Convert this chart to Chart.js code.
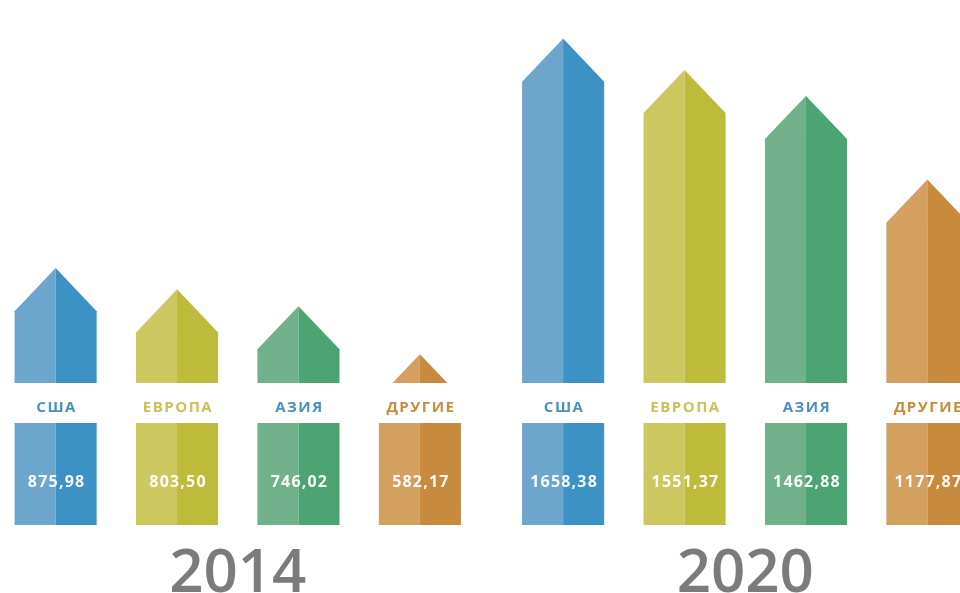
<!DOCTYPE html>
<html>
<head>
<meta charset="utf-8">
<script src="https://cdn.jsdelivr.net/npm/chart.js@4/dist/chart.umd.min.js"></script>
<style>
html,body{margin:0;padding:0;background:#fff;overflow:hidden;width:960px;height:593px;}
#c{position:absolute;left:-16px;top:0;}
</style>
</head>
<body>
<canvas id="c" width="1015" height="617"></canvas>
<script>
// ---- data ----
const years = ['2014', '2020'];
const regions = ['США', 'ЕВРОПА', 'АЗИЯ', 'ДРУГИЕ'];
const usaValues = [875.98, 1658.38];
const europeValues = [803.50, 1551.37];
const asiaValues = [746.02, 1462.88];
const otherValues = [582.17, 1177.87];

// ---- styles ----
const lightColors = ['#6CA6CC', '#CDC760', '#70B08A', '#D4A060'];
const darkColors = ['#3C92C4', '#BFBB3A', '#4CA473', '#C88A3C'];
const labelColors = ['#4A90C2', '#C9C25A', '#4A8FC4', '#C98B3E'];

const seriesValues = [usaValues, europeValues, asiaValues, otherValues];

const arrowPlugin = {
  id: 'arrows',
  beforeDatasetsDraw(chart) {
    const ctx = chart.ctx;
    chart.data.datasets.forEach((ds, di) => {
      const meta = chart.getDatasetMeta(di);
      meta.data.forEach((bar, i) => {
        const p = bar.getProps(['x', 'y', 'base', 'width'], true);
        const half = p.width / 2;
        const roof = half * 1.05;
        const cutTop = p.base - 142, cutBot = p.base - 102;
        ctx.save();
        ctx.beginPath();
        ctx.rect(p.x - half - 2, 0, p.width + 4, cutTop);
        ctx.rect(p.x - half - 2, cutBot, p.width + 4, p.base - cutBot);
        ctx.clip();
        // left (lighter) half
        ctx.fillStyle = lightColors[di];
        ctx.beginPath();
        ctx.moveTo(p.x, p.y);
        ctx.lineTo(p.x - half, p.y + roof);
        ctx.lineTo(p.x - half, p.base);
        ctx.lineTo(p.x, p.base);
        ctx.closePath();
        ctx.fill();
        // right (darker) half
        ctx.fillStyle = darkColors[di];
        ctx.beginPath();
        ctx.moveTo(p.x, p.y);
        ctx.lineTo(p.x + half, p.y + roof);
        ctx.lineTo(p.x + half, p.base);
        ctx.lineTo(p.x, p.base);
        ctx.closePath();
        ctx.fill();
        ctx.restore();

        // region label
        ctx.save();
        ctx.textAlign = 'center';
        ctx.textBaseline = 'middle';
        ctx.font = 'bold 15px "Open Sans"';
        ctx.letterSpacing = '1.5px';
        ctx.fillStyle = labelColors[di];
        ctx.fillText(regions[di], p.x + 1, p.base - 117);
        // value
        ctx.font = 'bold 16px "Open Sans"';
        ctx.letterSpacing = '1.2px';
        ctx.fillStyle = 'rgba(255,255,255,0.95)';
        const v = ds.data[i].toFixed(2).replace('.', ',');
        ctx.fillText(v, p.x + 1, p.base - 43);
        ctx.restore();
      });
    });
    return false;
  }
};

new Chart(document.getElementById('c'), {
  type: 'bar',
  data: {
    labels: years,
    datasets: regions.map((r, i) => ({
      label: r,
      data: seriesValues[i],
      backgroundColor: lightColors[i],
      borderWidth: 0,
      categoryPercentage: 0.957,
      barPercentage: 0.676
    }))
  },
  options: {
    responsive: false,
    devicePixelRatio: 1,
    animation: false,
    layout: { padding: 0 },
    plugins: { legend: { display: false }, tooltip: { enabled: false } },
    scales: {
      x: {
        grid: { display: false },
        border: { display: false },
        ticks: {
          color: '#7b7b7b',
          padding: 21,
          font: { family: 'Open Sans', size: 60, weight: '600', lineHeight: 0.7 }
        }
      },
      y: { display: false, min: 0, max: 1790 }
    }
  },
  plugins: [arrowPlugin]
});
</script>
</body>
</html>
